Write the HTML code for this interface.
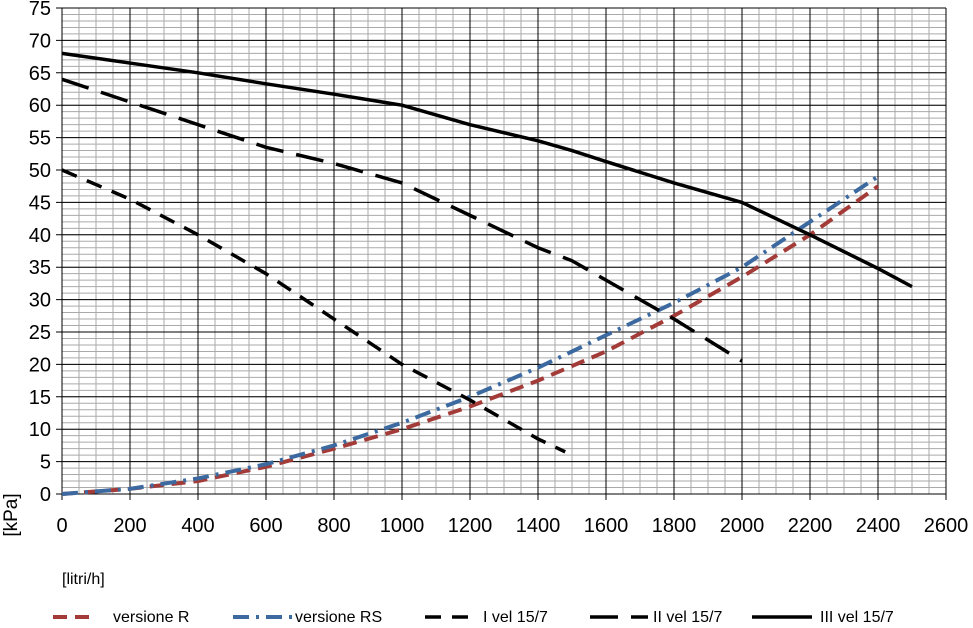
<!DOCTYPE html>
<html><head><meta charset="utf-8"><style>
body{margin:0;background:#fff;}
svg text{font-family:"Liberation Sans",sans-serif;fill:#000;}
</style></head><body>
<svg id="chart" width="973" height="623" xmlns="http://www.w3.org/2000/svg">
<g id="grid"></g>
<g id="axes"></g>
<g id="series"></g>
<text transform="translate(17,515) rotate(-90)" text-anchor="middle" font-size="19">[kPa]</text>
<text x="62" y="584" font-size="16">[litri/h]</text>
<g id="legend"></g>
</svg>
<script>
const xTicks=[0,200,400,600,800,1000,1200,1400,1600,1800,2000,2200,2400,2600];
const yTicks=[0,5,10,15,20,25,30,35,40,45,50,55,60,65,70,75];
const seriesNames=["versione R","versione RS","I vel 15/7","II vel 15/7","III vel 15/7"];
const rX=[0,200,400,600,800,1000,1200,1400,1600,1800,2000,2200,2400];
const rY=[0,0.8,2,4.2,7,10,13.5,17.5,22,27.5,33.5,40,47.5];
const rsX=[0,200,400,600,800,1000,1200,1400,1600,1800,2000,2200,2400];
const rsY=[0,0.8,2.4,4.6,7.5,11,15,19.5,24.5,29.5,35,42,49];
const v1X=[0,200,400,600,800,1000,1200,1400,1480];
const v1Y=[50,45.5,40,34,27,20,14.5,8.5,6.5];
const v2X=[0,200,400,600,800,1000,1200,1400,1500,1600,1800,2000];
const v2Y=[64,60.5,57,53.5,51,48,43,38,36,33,27,20.5];
const v3X=[0,200,400,600,800,1000,1200,1400,1500,1600,1800,2000,2200,2400,2500];
const v3Y=[68,66.5,65,63.3,61.7,60,57,54.5,53,51.3,48,45,40,34.8,32];

const NS="http://www.w3.org/2000/svg";
const X0=62,X1=946,Y0=494,Y1=8;
const sx=v=>X0+(v-0)/2600*(X1-X0);
const sy=v=>Y0-(v-0)/75*(Y0-Y1);
function mk(tag,attrs,parent){const e=document.createElementNS(NS,tag);for(const k in attrs)e.setAttribute(k,attrs[k]);parent.appendChild(e);return e;}
const grid=document.getElementById('grid'),axes=document.getElementById('axes'),ser=document.getElementById('series'),leg=document.getElementById('legend');
for(let v=0;v<=2600;v+=50){const l=mk('line',{x1:sx(v),x2:sx(v),y1:Y1,y2:Y0,stroke:'#aaa','stroke-width':1},grid);

}
for(let v=0;v<=75;v+=1){const l=mk('line',{x1:X0,x2:X1,y1:sy(v),y2:sy(v),stroke:'#aaa','stroke-width':1},grid);

}
xTicks.forEach(v=>{const l=mk('line',{x1:sx(v),x2:sx(v),y1:Y1,y2:Y0+6,stroke:'#000','stroke-width':1},axes);


const t=mk('text',{x:sx(v),y:Y0+38,'text-anchor':'middle','font-size':20},axes);t.textContent=v;

});
yTicks.forEach(v=>{const l=mk('line',{x1:X0-6,x2:X1,y1:sy(v),y2:sy(v),stroke:'#000','stroke-width':1},axes);


const t=mk('text',{x:X0-11,y:sy(v)+7,'text-anchor':'end','font-size':20},axes);t.textContent=v;

});
const styles=[
 {c:'#a33b38',w:4,d:'14 8'},
 {c:'#3c6aa0',w:4,d:'16 7 3 7'},
 {c:'#000',w:3.5,d:'16 11'},
 {c:'#000',w:3.5,d:'28 13'},
 {c:'#000',w:3.5,d:''}];
const data=[[rX,rY],[rsX,rsY],[v1X,v1Y],[v2X,v2Y],[v3X,v3Y]];
const names=['series-versione-r','series-versione-rs','series-i-vel','series-ii-vel','series-iii-vel'];
data.forEach((s,i)=>{const pts=s[0].map((x,j)=>sx(x)+','+sy(s[1][j])).join(' ');
const p=mk('polyline',{points:pts,fill:'none',stroke:styles[i].c,'stroke-width':styles[i].w,'stroke-dasharray':styles[i].d,'stroke-linejoin':'round'},ser);

});
const legX=[[53,97,113],[233,293,295],[425,472,483],[590,648,653],[752,812,820]];
seriesNames.forEach((n,i)=>{const g=mk('g',{},leg);


mk('line',{x1:legX[i][0],x2:legX[i][1],y1:617,y2:617,stroke:styles[i].c,'stroke-width':styles[i].w,'stroke-dasharray':styles[i].d},g);
const t=mk('text',{x:legX[i][2],y:622,'font-size':16},g);t.textContent=n;});
</script>
</body></html>
